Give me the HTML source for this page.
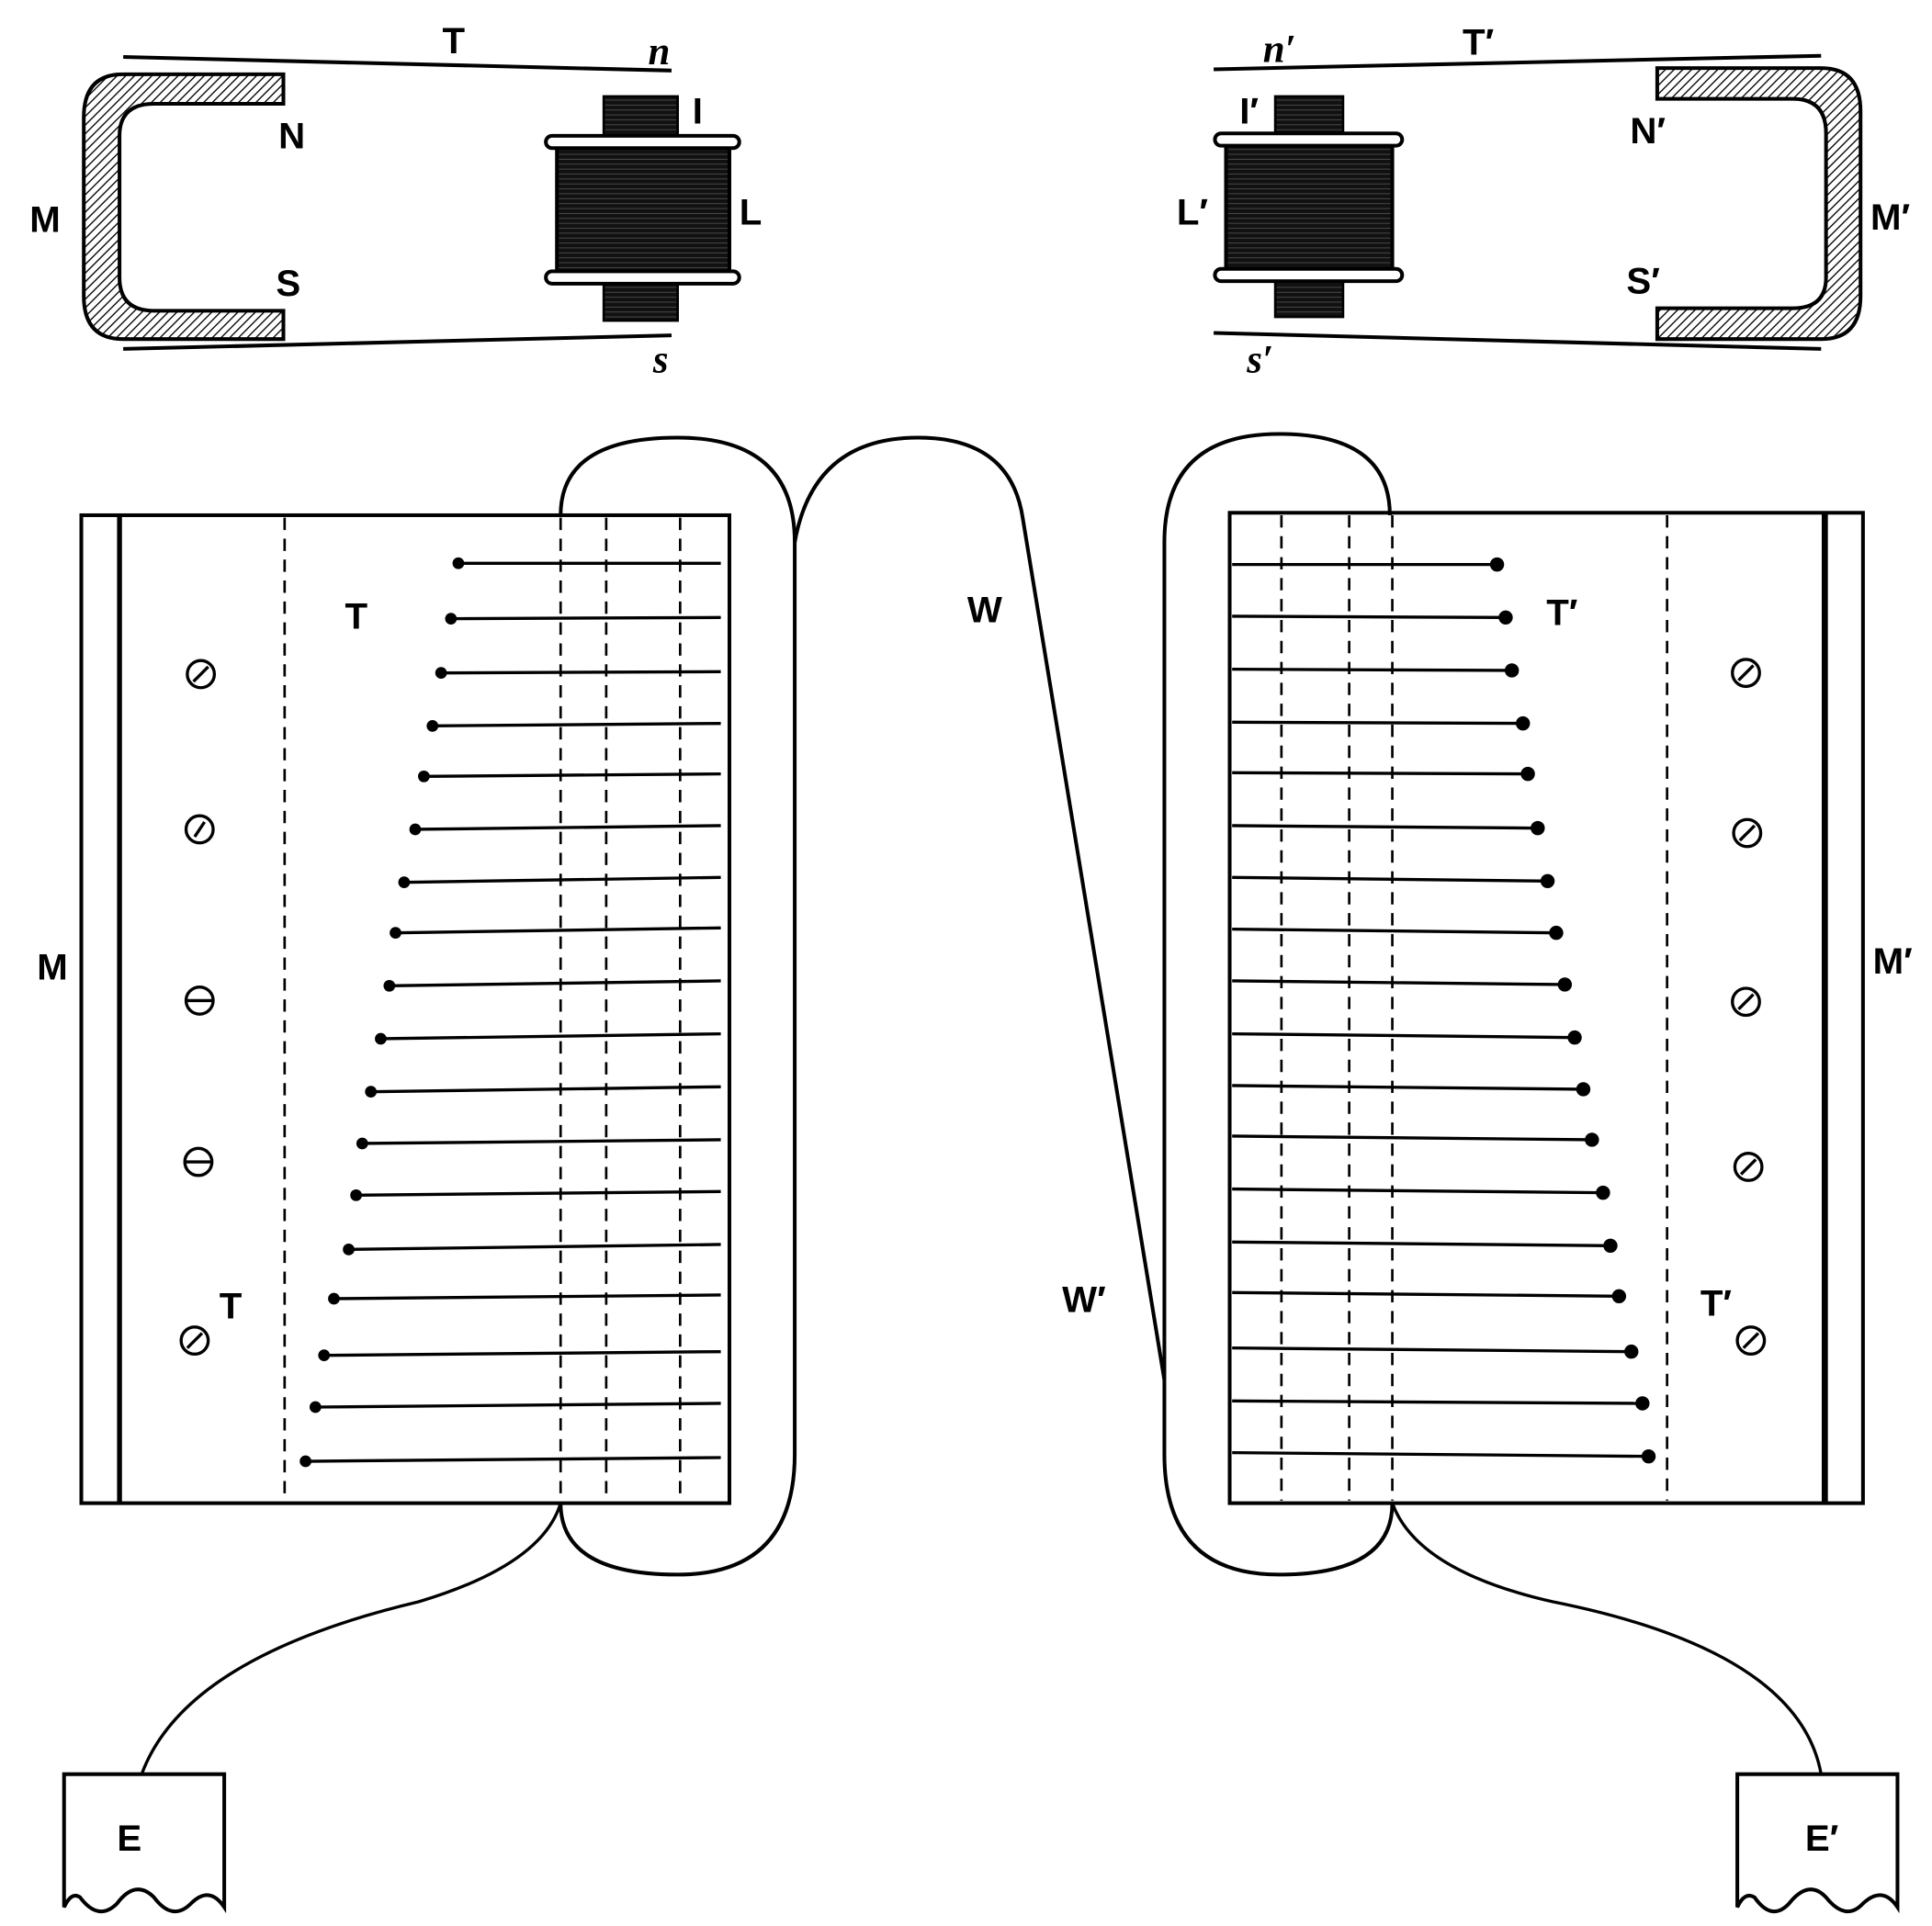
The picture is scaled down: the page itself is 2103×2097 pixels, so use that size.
<!DOCTYPE html>
<html><head><meta charset="utf-8"><style>
html,body{margin:0;padding:0;background:#fff}
svg{display:block}
text{font-family:"Liberation Sans",sans-serif;font-weight:bold;fill:#000}
.i{font-family:"Liberation Serif",serif;font-style:italic}
</style></head><body>
<svg width="2103" height="2097" viewBox="0 0 1568 1563" xmlns="http://www.w3.org/2000/svg">
<defs>
<pattern id="h" width="5" height="5" patternUnits="userSpaceOnUse" patternTransform="rotate(45)">
<rect width="5" height="5" fill="#fff"/><line x1="0" y1="0" x2="0" y2="5" stroke="#000" stroke-width="2"/></pattern>
<pattern id="c" width="4" height="4" patternUnits="userSpaceOnUse">
<rect width="4" height="4" fill="#111"/><line x1="0" y1="1" x2="4" y2="1" stroke="#555" stroke-width="0.6"/></pattern>
</defs>
<g fill="none" stroke="#000">
<!-- top-left magnet -->
<path d="M230,60 L100,60 Q68,60 68,95 L68,240 Q68,275 100,275 L230,275 L230,252 L125,252 Q97,252 97,225 L97,110 Q97,84 125,84 L230,84 Z" fill="url(#h)" stroke-width="3"/>
<line x1="100" y1="46" x2="545" y2="57" stroke-width="3"/>
<line x1="100" y1="283" x2="545" y2="272" stroke-width="3"/>
<rect x="490" y="78" width="60" height="32" fill="url(#c)" stroke-width="2"/>
<rect x="490" y="228" width="60" height="32" fill="url(#c)" stroke-width="2"/>
<rect x="452" y="116" width="140" height="108" fill="url(#c)" stroke-width="3"/>
<rect x="443" y="110" width="157" height="10" rx="5" fill="#fff" stroke-width="3"/>
<rect x="443" y="220" width="157" height="10" rx="5" fill="#fff" stroke-width="3"/>
<!-- top-right magnet -->
<path d="M1345,55 L1478,55 Q1510,55 1510,90 L1510,240 Q1510,275 1478,275 L1345,275 L1345,250 L1455,250 Q1482,250 1482,225 L1482,108 Q1482,80 1455,80 L1345,80 Z" fill="url(#h)" stroke-width="3"/>
<line x1="985" y1="56" x2="1478" y2="45" stroke-width="3"/>
<line x1="985" y1="270" x2="1478" y2="283" stroke-width="3"/>
<rect x="1035" y="78" width="55" height="30" fill="url(#c)" stroke-width="2"/>
<rect x="1035" y="225" width="55" height="32" fill="url(#c)" stroke-width="2"/>
<rect x="995" y="114" width="135" height="106" fill="url(#c)" stroke-width="3"/>
<rect x="986" y="108" width="152" height="10" rx="5" fill="#fff" stroke-width="3"/>
<rect x="986" y="218" width="152" height="10" rx="5" fill="#fff" stroke-width="3"/>
<!-- left box -->
<rect x="66" y="418" width="526" height="802" stroke-width="3"/>
<line x1="97" y1="418" x2="97" y2="1220" stroke-width="4"/>
<g stroke-dasharray="10,7" stroke-width="2">
<line x1="231" y1="420" x2="231" y2="1218"/><line x1="455" y1="420" x2="455" y2="1218"/>
<line x1="492" y1="420" x2="492" y2="1218"/><line x1="552" y1="420" x2="552" y2="1218"/></g>
<!-- right box -->
<rect x="998" y="416" width="514" height="804" stroke-width="3"/>
<line x1="1481" y1="416" x2="1481" y2="1220" stroke-width="5"/>
<g stroke-dasharray="10,7" stroke-width="2">
<line x1="1040" y1="418" x2="1040" y2="1218"/><line x1="1095" y1="418" x2="1095" y2="1218"/>
<line x1="1130" y1="418" x2="1130" y2="1218"/><line x1="1353" y1="418" x2="1353" y2="1218"/></g>
<!-- loops and wire -->
<path d="M455,418 Q455,355 550,355 Q645,355 645,440 L645,1180 Q645,1278 550,1278 Q455,1278 455,1220" stroke-width="3"/>
<path d="M645,440 Q660,355 745,355 Q820,355 830,420 L945,1120" stroke-width="3"/>
<path d="M1128,418 Q1128,352 1038,352 Q945,352 945,440 L945,1180 Q945,1278 1038,1278 Q1130,1278 1130,1220" stroke-width="3"/>
<path d="M455,1220 Q440,1270 340,1300 Q150,1345 115,1440" stroke-width="2.5"/>
<path d="M1130,1220 Q1150,1275 1260,1300 Q1460,1340 1478,1440" stroke-width="2.5"/>
<!-- E boxes -->
<path d="M52,1440 L182,1440 L182,1548 Q170,1530 155,1545 Q140,1560 125,1540 Q110,1525 95,1545 Q80,1560 65,1540 Q58,1535 52,1548 Z" stroke-width="3"/>
<path d="M1410,1440 L1540,1440 L1540,1548 Q1528,1530 1512,1545 Q1498,1560 1482,1540 Q1468,1525 1452,1545 Q1438,1560 1424,1540 Q1416,1535 1410,1548 Z" stroke-width="3"/>
</g>
<g stroke="#000" stroke-width="2.5" fill="#000" id="reeds"></g>
<g fill="#fff" stroke="#000" stroke-width="2.5">
<circle cx="163" cy="547" r="11"/><circle cx="162" cy="673" r="11"/><circle cx="162" cy="812" r="11"/><circle cx="161" cy="943" r="11"/><circle cx="158" cy="1088" r="11"/>
<circle cx="1417" cy="546" r="11"/><circle cx="1418" cy="676" r="11"/><circle cx="1417" cy="813" r="11"/><circle cx="1419" cy="947" r="11"/><circle cx="1421" cy="1088" r="11"/>
<line x1="157" y1="553" x2="169" y2="541"/><line x1="158" y1="679" x2="166" y2="667"/><line x1="152" y1="812" x2="172" y2="812"/><line x1="151" y1="943" x2="171" y2="943"/><line x1="152" y1="1094" x2="164" y2="1082"/>
<line x1="1411" y1="552" x2="1423" y2="540"/><line x1="1412" y1="682" x2="1424" y2="670"/><line x1="1411" y1="819" x2="1423" y2="807"/><line x1="1413" y1="953" x2="1425" y2="941"/><line x1="1415" y1="1094" x2="1427" y2="1082"/>
</g>
<g stroke="#000" stroke-width="2.5" fill="#000">
<line x1="372" y1="457" x2="585" y2="457"/><circle cx="372" cy="457" r="3.5"/>
<line x1="366" y1="502" x2="585" y2="501"/><circle cx="366" cy="502" r="3.5"/>
<line x1="358" y1="546" x2="585" y2="545"/><circle cx="358" cy="546" r="3.5"/>
<line x1="351" y1="589" x2="585" y2="587"/><circle cx="351" cy="589" r="3.5"/>
<line x1="344" y1="630" x2="585" y2="628"/><circle cx="344" cy="630" r="3.5"/>
<line x1="337" y1="673" x2="585" y2="670"/><circle cx="337" cy="673" r="3.5"/>
<line x1="328" y1="716" x2="585" y2="712"/><circle cx="328" cy="716" r="3.5"/>
<line x1="321" y1="757" x2="585" y2="753"/><circle cx="321" cy="757" r="3.5"/>
<line x1="316" y1="800" x2="585" y2="796"/><circle cx="316" cy="800" r="3.5"/>
<line x1="309" y1="843" x2="585" y2="839"/><circle cx="309" cy="843" r="3.5"/>
<line x1="301" y1="886" x2="585" y2="882"/><circle cx="301" cy="886" r="3.5"/>
<line x1="294" y1="928" x2="585" y2="925"/><circle cx="294" cy="928" r="3.5"/>
<line x1="289" y1="970" x2="585" y2="967"/><circle cx="289" cy="970" r="3.5"/>
<line x1="283" y1="1014" x2="585" y2="1010"/><circle cx="283" cy="1014" r="3.5"/>
<line x1="271" y1="1054" x2="585" y2="1051"/><circle cx="271" cy="1054" r="3.5"/>
<line x1="263" y1="1100" x2="585" y2="1097"/><circle cx="263" cy="1100" r="3.5"/>
<line x1="256" y1="1142" x2="585" y2="1139"/><circle cx="256" cy="1142" r="3.5"/>
<line x1="248" y1="1186" x2="585" y2="1183"/><circle cx="248" cy="1186" r="3.5"/>
<line x1="1000" y1="458" x2="1215" y2="458"/><circle cx="1215" cy="458" r="4.5"/>
<line x1="1000" y1="500" x2="1222" y2="501"/><circle cx="1222" cy="501" r="4.5"/>
<line x1="1000" y1="543" x2="1227" y2="544"/><circle cx="1227" cy="544" r="4.5"/>
<line x1="1000" y1="586" x2="1236" y2="587"/><circle cx="1236" cy="587" r="4.5"/>
<line x1="1000" y1="627" x2="1240" y2="628"/><circle cx="1240" cy="628" r="4.5"/>
<line x1="1000" y1="670" x2="1248" y2="672"/><circle cx="1248" cy="672" r="4.5"/>
<line x1="1000" y1="712" x2="1256" y2="715"/><circle cx="1256" cy="715" r="4.5"/>
<line x1="1000" y1="754" x2="1263" y2="757"/><circle cx="1263" cy="757" r="4.5"/>
<line x1="1000" y1="796" x2="1270" y2="799"/><circle cx="1270" cy="799" r="4.5"/>
<line x1="1000" y1="839" x2="1278" y2="842"/><circle cx="1278" cy="842" r="4.5"/>
<line x1="1000" y1="881" x2="1285" y2="884"/><circle cx="1285" cy="884" r="4.5"/>
<line x1="1000" y1="922" x2="1292" y2="925"/><circle cx="1292" cy="925" r="4.5"/>
<line x1="1000" y1="965" x2="1301" y2="968"/><circle cx="1301" cy="968" r="4.5"/>
<line x1="1000" y1="1008" x2="1307" y2="1011"/><circle cx="1307" cy="1011" r="4.5"/>
<line x1="1000" y1="1049" x2="1314" y2="1052"/><circle cx="1314" cy="1052" r="4.5"/>
<line x1="1000" y1="1094" x2="1324" y2="1097"/><circle cx="1324" cy="1097" r="4.5"/>
<line x1="1000" y1="1137" x2="1333" y2="1139"/><circle cx="1333" cy="1139" r="4.5"/>
<line x1="1000" y1="1179" x2="1338" y2="1182"/><circle cx="1338" cy="1182" r="4.5"/>
</g>
<!-- labels -->
<g font-size="30">
<text x="359" y="43">T</text><text x="526" y="52" class="i" font-size="32">n</text>
<text x="226" y="120">N</text><text x="224" y="240">S</text><text x="24" y="188">M</text>
<text x="562" y="100">I</text><text x="600" y="182">L</text><text x="530" y="302" class="i" font-size="32">s</text>
<text x="1025" y="50" class="i" font-size="32">n′</text><text x="1187" y="44">T′</text>
<text x="1323" y="116">N′</text><text x="1320" y="238">S′</text><text x="1518" y="186">M′</text>
<text x="1006" y="100">I′</text><text x="955" y="182">L′</text><text x="1012" y="302" class="i" font-size="32">s′</text>
<text x="280" y="510">T</text><text x="178" y="1070">T</text><text x="30" y="795">M</text>
<text x="785" y="505">W</text><text x="862" y="1065">W′</text>
<text x="1255" y="507">T′</text><text x="1380" y="1068">T′</text><text x="1520" y="790">M′</text>
<text x="95" y="1502">E</text><text x="1465" y="1502">E′</text>
</g>
</svg>
</body></html>
